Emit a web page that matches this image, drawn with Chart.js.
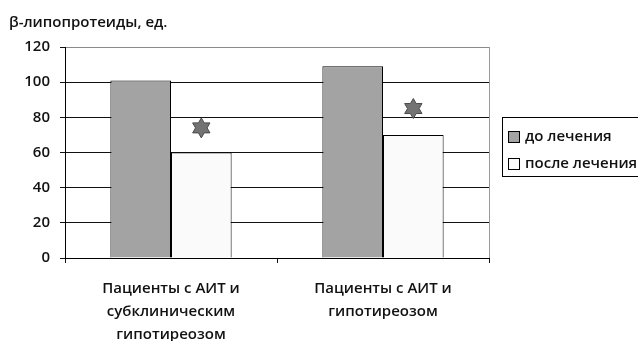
<!DOCTYPE html>
<html>
<head>
<meta charset="utf-8">
<script src="https://cdn.jsdelivr.net/npm/chart.js@4/dist/chart.umd.min.js"></script>
<style>
  html, body { margin: 0; padding: 0; background: #ffffff; }
  #c { display: block; }
</style>
</head>
<body>
<canvas id="c" width="638" height="341"></canvas>
<script>
// Patient groups (multi-line axis labels)
const categories = [
  ['Пациенты с АИТ и', 'субклиническим', 'гипотиреозом'],
  ['Пациенты с АИТ и', 'гипотиреозом']
];
const seriesNames = ['до лечения', 'после лечения'];
const beforeValues = [101, 109];
const afterValues = [60, 70];
// significance markers (star) placed above the "after" bars
const markerValues = [74, 85];
const yTicks = [0, 20, 40, 60, 80, 100, 120];
const axisTitle = 'β-липопротеиды, ед.';

const FONT = "'Open Sans', 'Noto Sans', sans-serif";
const TEXT = '#111111';

function drawHexagram(ctx, cx, cy, R) {
  const r = R / Math.sqrt(3);
  ctx.beginPath();
  for (let k = 0; k < 12; k++) {
    const a = -Math.PI / 2 + k * Math.PI / 6;
    const rad = k % 2 === 0 ? R : r;
    const px = cx + rad * Math.cos(a), py = cy + rad * Math.sin(a);
    k === 0 ? ctx.moveTo(px, py) : ctx.lineTo(px, py);
  }
  ctx.closePath();
  ctx.fillStyle = '#737373';
  ctx.fill();
  ctx.lineWidth = 1;
  ctx.strokeStyle = '#4a4a4a';
  ctx.stroke();
}

const markerPlugin = {
  id: 'markers',
  afterDatasetsDraw(chart) {
    const meta = chart.getDatasetMeta(1);
    const ys = chart.scales.y;
    const ctx = chart.ctx;
    ctx.save();
    meta.data.forEach((bar, i) => {
      drawHexagram(ctx, bar.x, ys.getPixelForValue(markerValues[i]), 10);
    });
    ctx.restore();
  }
};

// boxed legend to the right of the plot
const boxLegendPlugin = {
  id: 'boxLegend',
  afterDraw(chart) {
    const ctx = chart.ctx;
    const x0 = chart.chartArea.right + 13;
    const y0 = 117;
    ctx.save();
    ctx.strokeStyle = '#000';
    ctx.lineWidth = 1;
    ctx.strokeRect(x0 + 0.5, y0 + 0.5, 150, 59);
    ctx.font = `600 15px ${FONT}`;
    ctx.textBaseline = 'middle';
    chart.data.datasets.forEach((ds, i) => {
      const cy = y0 + 20 + i * 27;
      ctx.fillStyle = ds.backgroundColor;
      ctx.fillRect(x0 + 6.5, cy - 5.5, 11, 11);
      ctx.strokeStyle = '#000';
      ctx.strokeRect(x0 + 6.5, cy - 5.5, 11, 11);
      ctx.fillStyle = TEXT;
      ctx.fillText(ds.label, x0 + 23, cy);
    });
    ctx.restore();
  }
};

new Chart(document.getElementById('c'), {
  type: 'bar',
  data: {
    labels: categories,
    datasets: [
      {
        label: seriesNames[0],
        data: beforeValues,
        backgroundColor: '#a3a3a3',
        borderColor: '#000000',
        borderWidth: 1
      },
      {
        label: seriesNames[1],
        data: afterValues,
        backgroundColor: '#fafafa',
        borderColor: '#000000',
        borderWidth: 1
      }
    ]
  },
  options: {
    responsive: false,
    animation: false,
    layout: { padding: { left: 9, right: 149, top: 0, bottom: 0 } },
    datasets: { bar: { categoryPercentage: 0.572, barPercentage: 1.0 } },
    plugins: {
      legend: { display: false },
      tooltip: { enabled: false },
      title: {
        display: true,
        text: axisTitle,
        align: 'start',
        color: TEXT,
        font: { family: FONT, size: 15, weight: '600', lineHeight: 1.2 },
        padding: { top: 14, bottom: 15 }
      }
    },
    scales: {
      x: {
        type: 'category',
        offset: true,
        afterFit(scale) { scale.height = 83; },
        grid: {
          offset: true,
          drawOnChartArea: true,
          color: (c) => (c.type === 'tick' ? 'rgba(0,0,0,0)' : '#9a9a9a'),
          tickColor: '#111111',
          tickLength: 5,
          lineWidth: 1
        },
        border: { color: '#000000', width: 1 },
        ticks: {
          color: TEXT,
          font: { family: FONT, size: 15, weight: '600', lineHeight: 1.533 },
          padding: 14,
          maxRotation: 0,
          autoSkip: false
        }
      },
      y: {
        min: 0,
        max: 120,
        afterFit(scale) { scale.width = 56; },
        afterBuildTicks(scale) { scale.ticks = yTicks.map(v => ({ value: v })); },
        grid: {
          color: (c) => (c.tick && c.tick.value === 120 ? '#8a8a8a' : '#111111'),
          tickColor: '#111111',
          tickLength: 5,
          lineWidth: 1
        },
        border: { color: '#000000', width: 1 },
        ticks: {
          color: TEXT,
          font: { family: FONT, size: 15, weight: '600' },
          padding: 10
        }
      }
    }
  },
  plugins: [markerPlugin, boxLegendPlugin]
});
</script>
</body>
</html>
